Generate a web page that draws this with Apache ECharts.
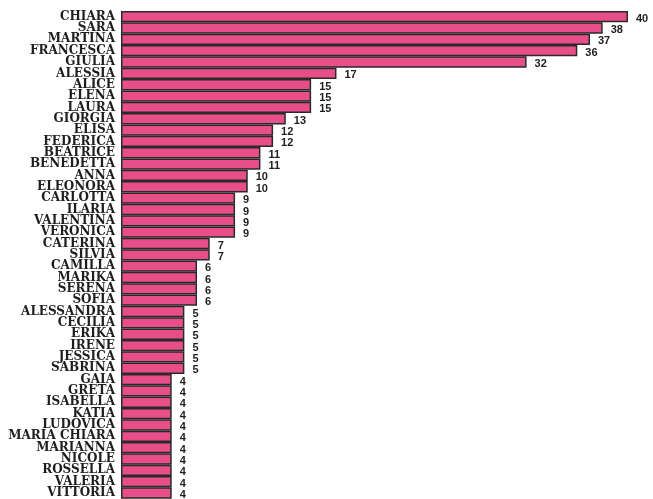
<!DOCTYPE html>
<html>
<head>
<meta charset="utf-8">
<style>html,body{margin:0;padding:0;background:#fff}#c{width:653px;height:499px}</style>
<script src="https://cdn.jsdelivr.net/npm/echarts@6/dist/echarts.min.js"></script>
</head>
<body>
<div id="c"></div>
<script>
const names = ["CHIARA","SARA","MARTINA","FRANCESCA","GIULIA","ALESSIA","ALICE","ELENA","LAURA","GIORGIA","ELISA","FEDERICA","BEATRICE","BENEDETTA","ANNA","ELEONORA","CARLOTTA","ILARIA","VALENTINA","VERONICA","CATERINA","SILVIA","CAMILLA","MARIKA","SERENA","SOFIA","ALESSANDRA","CECILIA","ERIKA","IRENE","JESSICA","SABRINA","GAIA","GRETA","ISABELLA","KATIA","LUDOVICA","MARIA CHIARA","MARIANNA","NICOLE","ROSSELLA","VALERIA","VITTORIA"];
const counts = [40,38,37,36,32,17,15,15,15,13,12,12,11,11,10,10,9,9,9,9,7,7,6,6,6,6,5,5,5,5,5,5,4,4,4,4,4,4,4,4,4,4,4];

const chart = echarts.init(document.getElementById('c'), null, {renderer:'canvas'});
chart.setOption({
  animation: false,
  grid: {left: 121, width: 507, top: 11, bottom: 0, containLabel: false},
  xAxis: {type: 'value', min: 0, max: 40, show: false},
  yAxis: {
    type: 'category', data: names, inverse: true,
    axisLine: {show: false}, axisTick: {show: false},
    axisLabel: {interval: 0, margin: 6, color: '#1e1e1e', fontFamily: 'DejaVu Serif', fontWeight: 'bold', fontSize: 12, lineHeight: 11}
  },
  series: [{
    type: 'bar', data: counts, barCategoryGap: '0%',
    itemStyle: {color: '#e84f88', borderColor: '#2a2a2a', borderWidth: 1.5},
    label: {show: true, position: 'right', distance: 8, offset: [0, 2], color: '#1e1e1e',
      fontFamily: 'Liberation Sans', fontWeight: 'bold', fontSize: 11}
  }]
});
</script>
</body>
</html>
